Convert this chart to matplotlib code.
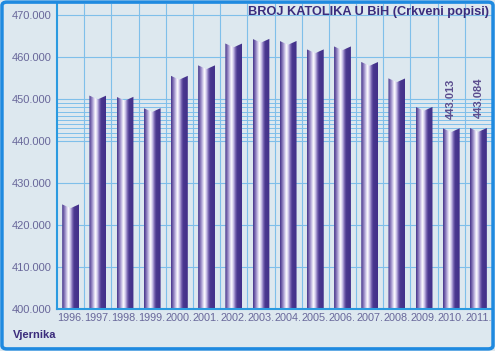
import numpy as np
import matplotlib
matplotlib.use('Agg')
import matplotlib.pyplot as plt
from matplotlib.colors import LinearSegmentedColormap
from matplotlib.patches import Polygon, FancyBboxPatch

years = ['1996.', '1997.', '1998.', '1999.', '2000.', '2001.', '2002.', '2003.',
         '2004.', '2005.', '2006.', '2007.', '2008.', '2009.', '2010.', '2011.']
vjernika = [424900, 450800, 450500, 447800, 455500, 458000, 463200, 464300,
            463800, 461800, 462500, 458800, 454900, 448100, 443013, 443084]
labelled = {14: '443.013', 15: '443.084'}
yticks = [400000, 410000, 420000, 430000, 440000, 450000, 460000, 470000]

FONT = ['Liberation Sans', 'DejaVu Sans']
PURPLE = '#3b2c7c'
TICK = '#68679a'
BG = '#dde8ef'
GRID = '#7fbfea'

bar_cmap = LinearSegmentedColormap.from_list('cyl', [
    (0.00, '#46358c'), (0.10, '#7464ac'), (0.25, '#bfb5e0'),
    (0.38, '#ffffff'), (0.50, '#cbc2e9'), (0.62, '#7866b2'),
    (0.72, '#4a388f'), (1.00, '#42308a')])

fig = plt.figure(figsize=(4.95, 3.51), dpi=100)
fig.patch.set_facecolor(BG)
fig.patches.append(FancyBboxPatch((0.004, 0.006), 0.992, 0.988,
                                  boxstyle='round,pad=0,rounding_size=0.01',
                                  transform=fig.transFigure, facecolor='none',
                                  edgecolor='#1f8ae0', linewidth=2.5))

ax = fig.add_axes([0.1152, 0.1197, 0.8788, 0.8689])
ax.set_facecolor(BG)
x = np.arange(len(years))

# grid
for v in yticks:
    ax.axhline(v, color=GRID, lw=0.8, zorder=1)
for v in range(441000, 450000, 1000):
    ax.axhline(v, color=GRID, lw=0.7, zorder=1)
for xv in x[:-1] + 0.5:
    ax.axvline(xv, color=GRID, lw=0.8, zorder=1)

# cylinder bars with notched top
w = 0.62
notch = 900
grad = np.linspace(0, 1, 64).reshape(1, -1)
for xi, v in zip(x, vjernika):
    im = ax.imshow(grad, cmap=bar_cmap, aspect='auto', zorder=3,
                   extent=(xi - w / 2, xi + w / 2, 400000, v),
                   interpolation='bilinear')
    clip = Polygon([(xi - w / 2, 400000), (xi - w / 2, v), (xi, v - notch),
                    (xi + w / 2, v), (xi + w / 2, 400000)], closed=True,
                   transform=ax.transData, facecolor='none', edgecolor='none')
    ax.add_patch(clip)
    im.set_clip_path(clip)
ax.set_xlim(-0.5, len(years) - 0.5)
ax.set_ylim(400000, 472600)

for i, txt in labelled.items():
    ax.text(x[i], vjernika[i] + 2300, txt, rotation=90, ha='center', va='bottom',
            fontsize=8, fontweight='bold', color='#5b4d8e', family=FONT,
            zorder=4)

ax.set_yticks(yticks)
ax.set_yticklabels([f'{v // 1000}.000' for v in yticks], family=FONT,
                   fontsize=8, color=TICK)
ax.set_xticks(x)
ax.set_xticklabels(years, family=FONT, fontsize=7.8, color=TICK)
ax.tick_params(axis='y', length=0, pad=4)
ax.tick_params(axis='x', length=0, pad=3)
for s in ['top', 'right']:
    ax.spines[s].set_visible(False)
for s in ['left', 'bottom']:
    ax.spines[s].set_color('#2a9ae0')
    ax.spines[s].set_linestyle((0, (1, 1)))
    ax.spines[s].set_linewidth(1.5)
    ax.spines[s].set_zorder(5)

fig.text(0.988, 0.966, 'BROJ KATOLIKA U BiH (Crkveni popisi)', ha='right',
         va='center', fontsize=9.2, fontweight='bold', color=PURPLE,
         family=FONT)
fig.text(0.026, 0.046, 'Vjernika', ha='left', va='center', fontsize=8,
         fontweight='bold', color=PURPLE, family=FONT)

fig.savefig('out.png', dpi=100, facecolor=BG)
